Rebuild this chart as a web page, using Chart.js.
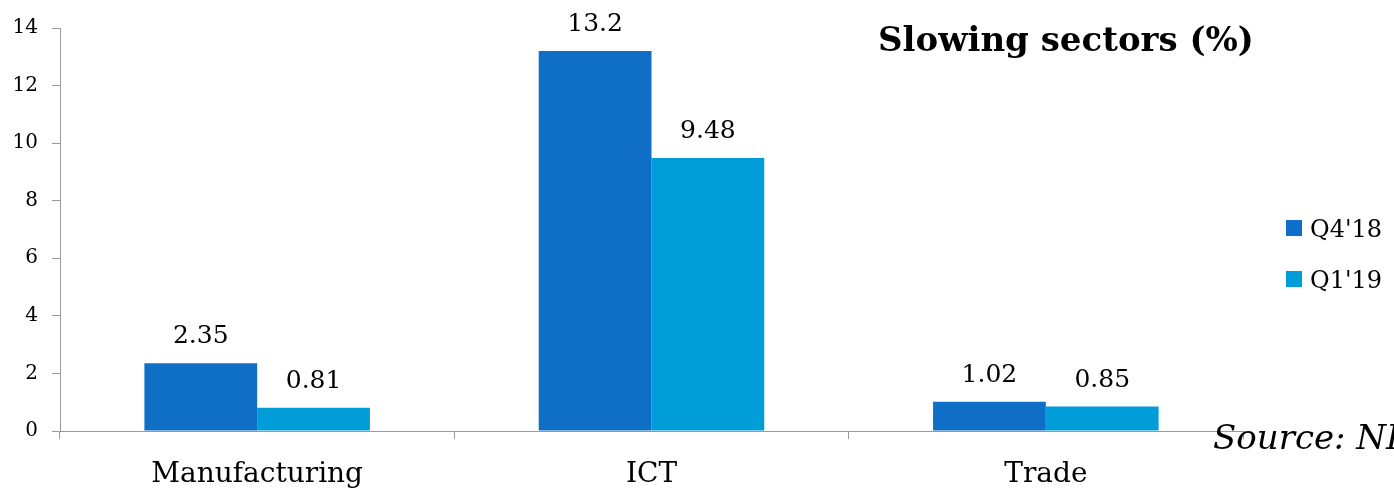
<!DOCTYPE html>
<html>
<head>
<meta charset="utf-8">
<script src="https://cdn.jsdelivr.net/npm/chart.js@4/dist/chart.umd.min.js"></script>
<style>
  html, body { margin: 0; padding: 0; background: #ffffff; }
  #wrap { width: 1394px; height: 488px; position: relative; overflow: hidden; }
</style>
</head>
<body>
<div id="wrap"><canvas id="chart" width="1394" height="488"></canvas></div>
<script>
// Sector growth rates (%)
const categories = ['Manufacturing', 'ICT', 'Trade'];
const seriesNames = ["Q4'18", "Q1'19"];
const q418 = [2.35, 13.2, 1.02];
const q119 = [0.81, 9.48, 0.85];
const valueLabels = [['2.35', '13.2', '1.02'], ['0.81', '9.48', '0.85']];
const yTicks = [0, 2, 4, 6, 8, 10, 12, 14];

const titleText = 'Slowing sectors (%)';
const sourceText = 'Source: NBS';
const SERIF = '"DejaVu Serif", "Liberation Serif", serif';
const colors = ['#0F6FC6', '#009DD9'];

// Title, legend, source note and value labels drawn on the canvas
const annotations = {
  id: 'annotations',
  afterDatasetsDraw(chart) {
    const ctx = chart.ctx;
    ctx.save();
    ctx.fillStyle = '#000';

    // value labels above each bar
    ctx.font = '25px ' + SERIF;
    ctx.textAlign = 'center';
    ctx.textBaseline = 'alphabetic';
    chart.data.datasets.forEach((ds, di) => {
      chart.getDatasetMeta(di).data.forEach((bar, i) => {
        ctx.fillText(valueLabels[di][i], bar.x, bar.y - 20);
      });
    });

    // title
    ctx.font = 'bold 34px ' + SERIF;
    ctx.textAlign = 'center';
    ctx.fillText(titleText, 1066, 51);

    // legend
    ctx.font = '24px ' + SERIF;
    ctx.textAlign = 'left';
    chart.data.datasets.forEach((ds, di) => {
      const y = 220 + di * 51;
      ctx.fillStyle = ds.backgroundColor;
      ctx.fillRect(1286, y, 16, 16);
      ctx.fillStyle = '#000';
      ctx.fillText(ds.label, 1310, y + 17);
    });

    // source note
    ctx.font = 'italic 34px ' + SERIF;
    ctx.fillText(sourceText, 1213, 449);
    ctx.restore();
  }
};

new Chart(document.getElementById('chart'), {
  type: 'bar',
  data: {
    labels: categories,
    datasets: [
      { label: seriesNames[0], data: q418, backgroundColor: colors[0] },
      { label: seriesNames[1], data: q119, backgroundColor: colors[1] }
    ]
  },
  options: {
    responsive: false,
    animation: false,
    devicePixelRatio: 1,
    layout: { padding: { top: 28, right: 151, left: 0, bottom: 0 } },
    datasets: { bar: { categoryPercentage: 0.572, barPercentage: 1.0, borderWidth: 0 } },
    plugins: {
      legend: { display: false },
      tooltip: { enabled: false }
    },
    scales: {
      x: {
        grid: { display: true, drawOnChartArea: false, drawTicks: true, tickLength: 8, color: '#9a9a9a', offset: true },
        border: { display: true, color: '#9a9a9a', width: 1 },
        ticks: { color: '#000', font: { family: SERIF, size: 28 }, padding: 19, maxRotation: 0 },
        afterFit(scale) { scale.height = 57; }
      },
      y: {
        min: 0, max: 14,
        afterBuildTicks(scale) { scale.ticks = yTicks.map(v => ({ value: v })); },
        grid: { display: true, drawOnChartArea: false, drawTicks: true, tickLength: 8, color: '#9a9a9a' },
        border: { display: true, color: '#9a9a9a', width: 1 },
        ticks: { color: '#000', font: { family: SERIF, size: 20 }, padding: 14 },
        afterFit(scale) { scale.width = 60; }
      }
    }
  },
  plugins: [annotations]
});
</script>
</body>
</html>
